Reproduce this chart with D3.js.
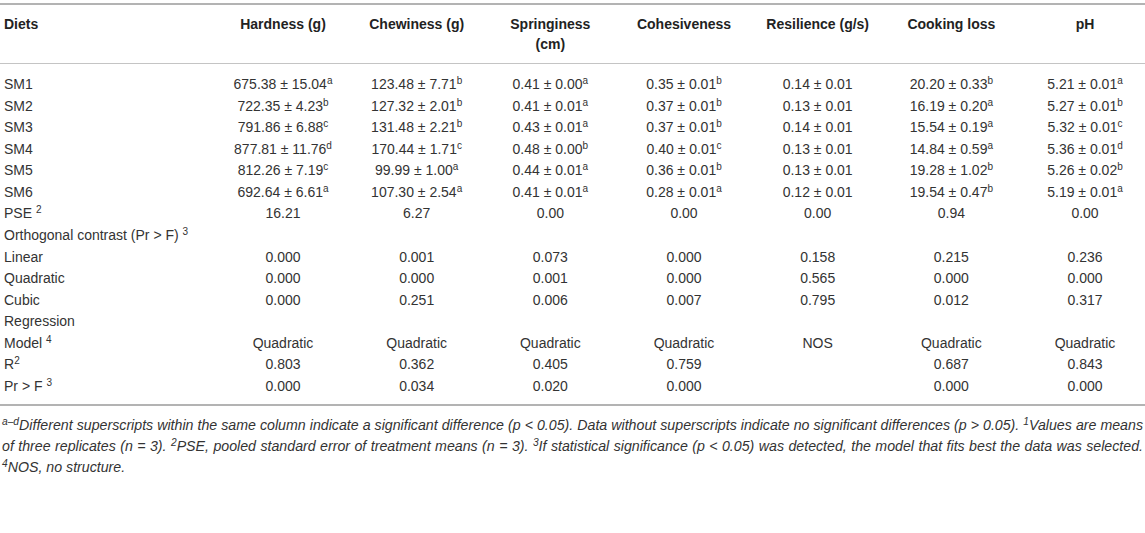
<!DOCTYPE html>
<html>
<head>
<meta charset="UTF-8">
<style>
  html, body { margin: 0; padding: 0; background: #fff; }
  svg { display: block; font-family: "Liberation Sans", Arial, sans-serif; }
</style>
<script src="https://d3js.org/d3.v7.min.js"></script>
</head>
<body>
<div id="viz"></div>
<script>
const width = 1145, height = 533;

// column headers (second entry = wrapped line)
const headers = [["Hardness (g)"], ["Chewiness (g)"], ["Springiness", "(cm)"], ["Cohesiveness"],
                 ["Resilience (g/s)"], ["Cooking loss"], ["pH"]];
const diets = ["SM1", "SM2", "SM3", "SM4", "SM5", "SM6"];

// means, standard errors and significance letters per column
const hardnessMean = [675.38, 722.35, 791.86, 877.81, 812.26, 692.64];
const hardnessSE   = [15.04, 4.23, 6.88, 11.76, 7.19, 6.61];
const hardnessSig  = ["a", "b", "c", "d", "c", "a"];
const chewinessMean = [123.48, 127.32, 131.48, 170.44, 99.99, 107.30];
const chewinessSE   = [7.71, 2.01, 2.21, 1.71, 1.00, 2.54];
const chewinessSig  = ["b", "b", "b", "c", "a", "a"];
const springinessMean = [0.41, 0.41, 0.43, 0.48, 0.44, 0.41];
const springinessSE   = [0.00, 0.01, 0.01, 0.00, 0.01, 0.01];
const springinessSig  = ["a", "a", "a", "b", "a", "a"];
const cohesivenessMean = [0.35, 0.37, 0.37, 0.40, 0.36, 0.28];
const cohesivenessSE   = [0.01, 0.01, 0.01, 0.01, 0.01, 0.01];
const cohesivenessSig  = ["b", "b", "b", "c", "b", "a"];
const resilienceMean = [0.14, 0.13, 0.14, 0.13, 0.13, 0.12];
const resilienceSE   = [0.01, 0.01, 0.01, 0.01, 0.01, 0.01];
const resilienceSig  = ["", "", "", "", "", ""];
const cookingMean = [20.20, 16.19, 15.54, 14.84, 19.28, 19.54];
const cookingSE   = [0.33, 0.20, 0.19, 0.59, 1.02, 0.47];
const cookingSig  = ["b", "a", "a", "a", "b", "b"];
const phMean = [5.21, 5.27, 5.32, 5.36, 5.26, 5.19];
const phSE   = [0.01, 0.01, 0.01, 0.01, 0.02, 0.01];
const phSig  = ["a", "b", "c", "d", "b", "a"];

const pse       = [16.21, 6.27, 0.00, 0.00, 0.00, 0.94, 0.00];
const linear    = [0.000, 0.001, 0.073, 0.000, 0.158, 0.215, 0.236];
const quadratic = [0.000, 0.000, 0.001, 0.000, 0.565, 0.000, 0.000];
const cubic     = [0.000, 0.251, 0.006, 0.007, 0.795, 0.012, 0.317];
const model     = ["Quadratic", "Quadratic", "Quadratic", "Quadratic", "NOS", "Quadratic", "Quadratic"];
const rSquared  = [0.803, 0.362, 0.405, 0.759, null, 0.687, 0.843];
const prF       = [0.000, 0.034, 0.020, 0.000, null, 0.000, 0.000];

const footnotes = [
  [["a–d", true], ["Different superscripts within the same column indicate a significant difference (p < 0.05). Data without superscripts indicate no significant differences (p > 0.05). "], ["1", true], ["Values are means"]],
  [["of three replicates (n = 3). "], ["2", true], ["PSE, pooled standard error of treatment means (n = 3). "], ["3", true], ["If statistical significance (p < 0.05) was detected, the model that fits best the data was selected."]],
  [["4", true], ["NOS, no structure."]]
];

const f2 = d3.format(".2f"), f3 = d3.format(".3f");
const means = [hardnessMean, chewinessMean, springinessMean, cohesivenessMean, resilienceMean, cookingMean, phMean];
const ses   = [hardnessSE, chewinessSE, springinessSE, cohesivenessSE, resilienceSE, cookingSE, phSE];
const sigs  = [hardnessSig, chewinessSig, springinessSig, cohesivenessSig, resilienceSig, cookingSig, phSig];

const pCells = arr => arr.map(v => v == null ? [] : [[f3(v)]]);

// assemble rows: label parts + cell parts
const rows = [
  ...diets.map((d, r) => ({
    label: [[d]],
    cells: means.map((m, c) => [[`${f2(m[r])} ± ${f2(ses[c][r])}`], [sigs[c][r], true]])
  })),
  {label: [["PSE "], ["2", true]], cells: pse.map(v => [[f2(v)]])},
  {label: [["Orthogonal contrast (Pr > F) "], ["3", true]], cells: []},
  {label: [["Linear"]], cells: pCells(linear)},
  {label: [["Quadratic"]], cells: pCells(quadratic)},
  {label: [["Cubic"]], cells: pCells(cubic)},
  {label: [["Regression"]], cells: []},
  {label: [["Model "], ["4", true]], cells: model.map(v => [[v]])},
  {label: [["R"], ["2", true]], cells: pCells(rSquared)},
  {label: [["Pr > F "], ["3", true]], cells: pCells(prF)}
];

const x = d3.scalePoint().domain(d3.range(headers.length)).range([283, 1085]);
const y = d3.scalePoint().domain(d3.range(rows.length)).range([84, 386]);

const svg = d3.select("#viz").append("svg")
    .attr("width", width)
    .attr("height", height);

// write text parts into a <text>, superscripts raised
function rich(sel, parts, supSize) {
  parts.forEach(([t, sup], i) => {
    if (!t) return;
    const prevSup = i > 0 && parts[i - 1][1];
    sel.append("tspan")
        .attr("font-size", sup ? supSize : null)
        .attr("dy", sup ? -5 : (prevSup ? 5 : null))
        .text(t);
  });
}

// rules
svg.append("line").attr("x1", 0).attr("x2", width).attr("y1", 4).attr("y2", 4)
    .attr("stroke", "#b3b3b3").attr("stroke-width", 2);
svg.append("line").attr("x1", 0).attr("x2", width).attr("y1", 63.5).attr("y2", 63.5)
    .attr("stroke", "#c4c4c4").attr("stroke-width", 1.2);
svg.append("line").attr("x1", 0).attr("x2", width).attr("y1", 405).attr("y2", 405)
    .attr("stroke", "#b3b3b3").attr("stroke-width", 1.8);

// header
const head = svg.append("g")
    .attr("font-weight", "bold")
    .attr("font-size", 14)
    .attr("fill", "#222");

head.append("text").attr("x", 4).attr("y", 28.5).text("Diets");

head.selectAll("text.col")
  .data(headers)
  .join("text")
    .attr("class", "col")
    .attr("text-anchor", "middle")
    .attr("transform", (d, i) => `translate(${x(i)},28.5)`)
  .selectAll("tspan")
  .data(d => d)
  .join("tspan")
    .attr("x", 0)
    .attr("y", (d, i) => i * 20.5)
    .text(d => d);

// body
const body = svg.append("g")
    .attr("font-size", 14)
    .attr("fill", "#333");

const row = body.selectAll("g.row")
  .data(rows)
  .join("g")
    .attr("class", "row")
    .attr("transform", (d, i) => `translate(0,${y(i) + 5})`);

row.append("text")
    .attr("x", 4)
    .each(function(d) { rich(d3.select(this), d.label, 10); });

row.selectAll("text.cell")
  .data(d => d.cells)
  .join("text")
    .attr("class", "cell")
    .attr("text-anchor", "middle")
    .attr("x", (d, i) => x(i))
    .each(function(d) { rich(d3.select(this), d, 10); });

// footnotes: size chosen so the first line fills the table width, then justified
const notes = svg.append("g")
    .attr("font-size", 13)
    .attr("font-style", "italic")
    .attr("fill", "#333");

const noteText = notes.selectAll("text")
  .data(footnotes)
  .join("text")
    .attr("x", 2)
    .attr("y", (d, i) => 430 + i * 21)
    .each(function(d) { rich(d3.select(this), d, 9.5); });

const target = width - 4;
const first = noteText.node().getComputedTextLength();
const fs = Math.min(15, 13 * target / first);
notes.attr("font-size", fs);
noteText.selectAll("tspan").filter(function() { return this.getAttribute("font-size"); })
    .attr("font-size", fs * 0.72);

noteText.each(function(d, i) {
  if (i === footnotes.length - 1) return;
  const natural = this.getComputedTextLength();
  const spaces = d.map(p => p[0]).join("").split(" ").length - 1;
  d3.select(this).attr("word-spacing", (target - natural) / spaces);
});
</script>
</body>
</html>
